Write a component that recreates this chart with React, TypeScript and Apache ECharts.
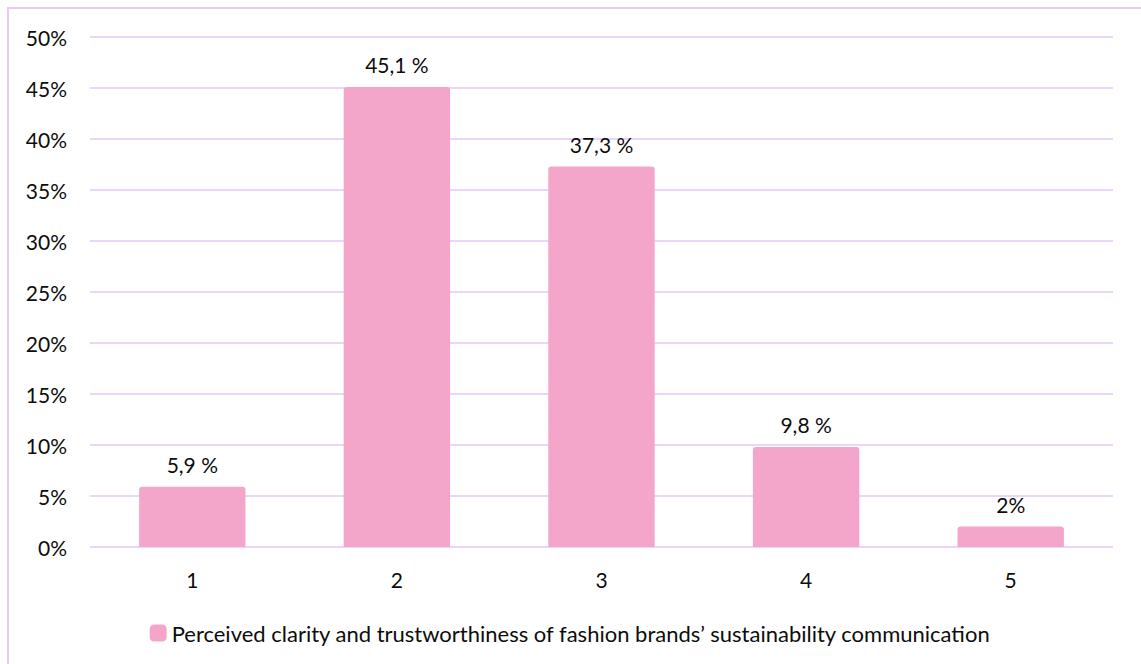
import React, { useEffect, useRef } from "react";
import * as echarts from "echarts";

const categories = ["1", "2", "3", "4", "5"];
const values = [5.9, 45.1, 37.3, 9.8, 2];
const valueLabels = ["5,9 %", "45,1 %", "37,3 %", "9,8 %", "2%"];
const seriesName =
  "Perceived clarity and trustworthiness of fashion brands\u2019 sustainability communication";

const FONT = "Lato, 'Noto Sans', sans-serif";
const FS = 21;
const LAV = "#E6C9F6";
const PINK = "#F4A6CA";
const TXT = "#0d0d0d";

export default function App() {
  const ref = useRef<HTMLDivElement>(null);
  useEffect(() => {
    document.body.style.margin = "0";
    document.body.style.overflow = "hidden";
    const chart = echarts.init(ref.current!, null, { renderer: "svg" });
    chart.setOption({
      animation: false,
      backgroundColor: "#fff",
      textStyle: { fontFamily: FONT },
      graphic: [
        {
          type: "rect",
          shape: { x: 8, y: 8, width: 1200, height: 700 },
          style: { fill: "none", stroke: LAV, lineWidth: 2 },
          silent: true,
        },
      ],
      grid: { left: 90, right: 28, top: 37, bottom: 117 },
      legend: {
        left: "center",
        top: 617,
        itemWidth: 17,
        itemHeight: 17,
        itemGap: 5,
        icon: "roundRect",
        textStyle: { fontFamily: FONT, fontSize: 22, color: TXT },
        data: [seriesName],
      },
      xAxis: {
        type: "category",
        data: categories,
        axisLine: { show: false },
        axisTick: { show: false },
        axisLabel: { fontFamily: FONT, fontSize: FS, color: TXT, margin: 22 },
      },
      yAxis: {
        type: "value",
        min: 0,
        max: 50,
        interval: 5,
        axisLine: { show: false },
        axisTick: { show: false },
        axisLabel: {
          formatter: "{value}%",
          fontFamily: FONT,
          fontSize: FS,
          color: TXT,
          margin: 23,
        },
        splitLine: { lineStyle: { color: LAV, width: 1.5 } },
      },
      series: [
        {
          name: seriesName,
          type: "bar",
          data: values,
          barWidth: "52%",
          itemStyle: { color: PINK, borderRadius: [3, 3, 0, 0] },
          label: {
            show: true,
            position: "top",
            distance: 12,
            fontFamily: FONT,
            fontSize: FS,
            color: TXT,
            formatter: (p: any) => valueLabels[p.dataIndex],
          },
        },
      ],
    });
    return () => chart.dispose();
  }, []);
  return <div ref={ref} style={{ width: 1141, height: 664 }} />;
}
